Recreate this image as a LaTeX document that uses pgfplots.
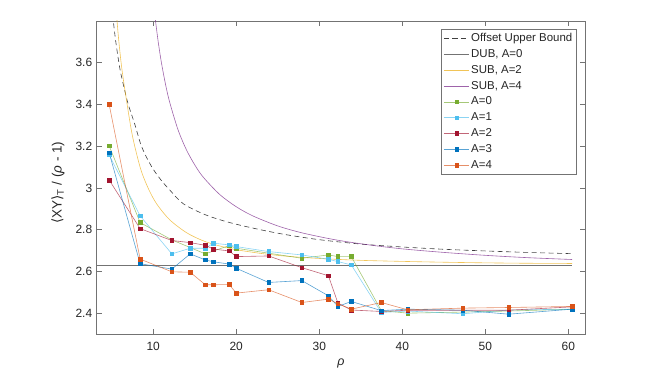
\documentclass[border=0pt]{standalone}
\usepackage{pgfplots}
\pgfplotsset{compat=1.18}
\usepackage{fontspec}
\setmainfont{Liberation Sans}
\newfontfamily\dejavu{DejaVu Sans}
\definecolor{mgreen}{rgb}{0.466,0.674,0.188}
\definecolor{mlblue}{rgb}{0.301,0.745,0.933}
\definecolor{mred}{rgb}{0.635,0.078,0.184}
\definecolor{mblue}{rgb}{0,0.447,0.741}
\definecolor{morange}{rgb}{0.85,0.325,0.098}
\definecolor{myellow}{rgb}{0.929,0.694,0.125}
\definecolor{mpurple}{rgb}{0.494,0.184,0.556}
\definecolor{axgray}{rgb}{0.45,0.45,0.45}
\definecolor{txtgray}{rgb}{0.15,0.15,0.15}
\pgfplotsset{lleg/.style={legend image code/.code={\draw[mark repeat=2,mark phase=2,##1] plot coordinates {(0bp,0bp) (12.7bp,0bp) (25.4bp,0bp)};}}}
\begin{document}
\begin{tikzpicture}
\path[use as bounding box] (-96.7bp,-35bp) rectangle (563.3bp,334bp);
\begin{axis}[
  scale only axis,
  width=488.3bp, height=313bp,
  xmin=3.2, xmax=62, ymin=2.3, ymax=3.8,
  xtick={10,20,30,40,50,60},
  ytick={2.4,2.6,2.8,3,3.2,3.4,3.6},
  tick align=inside,
  major tick length=4.9bp,
  xtick pos=both, ytick pos=both,
  axis line style={axgray, line width=0.6bp},
  tick style={axgray, line width=0.5bp},
  /pgf/number format/assume math mode=true,
  ticklabel style={font=\fontsize{12}{14}\selectfont, text=txtgray},
  xticklabel style={yshift=-4.5bp},
  yticklabel style={xshift=-1bp},
  xlabel={\textit{ρ}},
  xlabel style={at={(axis description cs:0.5,0)}, anchor=north, yshift=-21.5bp, font=\fontsize{12.5}{14}\selectfont, text=txtgray},
  ylabel={{\dejavu ⟨}XY{\dejavu ⟩}\textsubscript{T} / (\textit{ρ} - 1)},
  ylabel style={at={(axis description cs:-0.0793,0.484)}, anchor=center, font=\fontsize{13.5}{15}\selectfont, text=txtgray},
  legend cell align=left,
  legend style={at={(rel axis cs:0.9816,0.9744)}, anchor=north east,
    draw=axgray, line width=0.5bp, fill=white,
    font=\fontsize{11.5}{13}\selectfont, text=txtgray,
    nodes={inner xsep=1.5bp, inner ysep=1bp, text height=8.4bp, text depth=2.4bp},
    row sep=3bp, inner xsep=2bp, inner ysep=3bp},
  every axis plot/.append style={line width=0.6bp},
  mk/.style={mark=square*, mark size=1.8bp, draw opacity=0.65, mark options={solid, draw opacity=1, fill opacity=1}},
]
% Offset upper bound
\addplot[color=black!75, dashed, dash pattern=on 5bp off 3.5bp, line width=0.6bp, smooth, lleg] coordinates {
(5.0,3.87)(5.2,3.80)(5.5,3.70)(6.0,3.57)(6.5,3.48)(7.0,3.40)(7.75,3.31)(8.5,3.21)(9.16,3.15)(10,3.09)(11,3.035)(12,2.99)(13.6,2.925)(16,2.876)(18,2.848)(20,2.826)(23,2.799)(26,2.776)(30,2.752)(35,2.731)(40,2.717)(45,2.706)(50,2.698)(55,2.691)(60.44,2.685)};
\addlegendentry{Offset Upper Bound}
% DUB
\addplot[color=black!55, line width=0.7bp, lleg] coordinates {(3.2,2.631)(60.44,2.631)};
\addlegendentry{DUB, A=0}
% SUB A=2
\addplot[color=myellow, draw opacity=0.75, smooth, lleg] coordinates {
(5.55,3.85)(5.8,3.73)(6.2,3.58)(6.75,3.43)(7.5,3.25)(8.5,3.09)(9.5,2.99)(10.5,2.919)(12,2.847)(14,2.786)(16,2.747)(18,2.722)(20,2.704)(23,2.686)(26,2.673)(30,2.662)(35,2.653)(40,2.648)(45,2.644)(50,2.641)(55,2.639)(60.44,2.638)};
\addlegendentry{SUB, A=2}
% SUB A=4
\addplot[color=mpurple, draw opacity=0.75, smooth, lleg] coordinates {
(10.2,3.827)(10.6,3.702)(11,3.599)(11.5,3.494)(12,3.409)(13,3.278)(14,3.183)(15,3.111)(16,3.053)(18,2.969)(20,2.910)(22,2.866)(25,2.818)(28,2.784)(32,2.751)(36,2.727)(40,2.708)(45,2.691)(50,2.677)(55,2.666)(60.44,2.657)};
\addlegendentry{SUB, A=4}
% A=0
\addplot[color=mgreen, mk, lleg] coordinates {
(4.7,3.202)(8.43,2.834)(12.25,2.751)(16.27,2.684)(19.16,2.724)(20.0,2.711)(27.9,2.663)(31.1,2.679)(32.25,2.671)(33.86,2.671)(37.47,2.412)(40.64,2.400)(47.3,2.405)(52.8,2.410)(60.44,2.419)};
\addlegendentry{A=0}
% A=1
\addplot[color=mlblue, mk, lleg] coordinates {
(4.7,3.158)(8.43,2.866)(12.25,2.684)(14.46,2.711)(16.27,2.711)(17.27,2.735)(19.16,2.727)(20.0,2.719)(23.9,2.695)(27.9,2.679)(31.1,2.658)(32.25,2.647)(33.86,2.631)(37.47,2.403)(40.64,2.410)(47.3,2.397)(52.8,2.415)(60.44,2.419)};
\addlegendentry{A=1}
% A=2
\addplot[color=mred, mk, lleg] coordinates {
(4.7,3.038)(8.43,2.805)(12.25,2.748)(14.46,2.738)(16.27,2.725)(17.27,2.707)(19.16,2.698)(20.0,2.671)(23.9,2.674)(27.9,2.618)(31.1,2.579)(32.25,2.448)(33.86,2.415)(37.47,2.408)(40.64,2.414)(47.3,2.414)(52.8,2.414)(60.44,2.430)};
\addlegendentry{A=2}
% A=3
\addplot[color=mblue, mk, lleg] coordinates {
(4.7,3.169)(8.43,2.637)(12.25,2.611)(14.46,2.684)(16.27,2.655)(17.27,2.646)(19.16,2.635)(20.0,2.615)(23.9,2.547)(27.9,2.556)(31.1,2.483)(32.25,2.432)(33.86,2.456)(37.47,2.412)(40.64,2.419)(47.3,2.414)(52.8,2.395)(60.44,2.419)};
\addlegendentry{A=3}
% A=4
\addplot[color=morange, mk, lleg] coordinates {
(4.7,3.40)(8.43,2.659)(12.25,2.598)(14.46,2.596)(16.27,2.536)(17.27,2.536)(19.16,2.537)(20.0,2.496)(23.9,2.512)(27.9,2.451)(31.1,2.467)(32.25,2.445)(33.86,2.419)(37.47,2.451)(40.64,2.416)(47.3,2.424)(52.8,2.427)(60.44,2.432)};
\addlegendentry{A=4}
\end{axis}
\end{tikzpicture}
\end{document}
